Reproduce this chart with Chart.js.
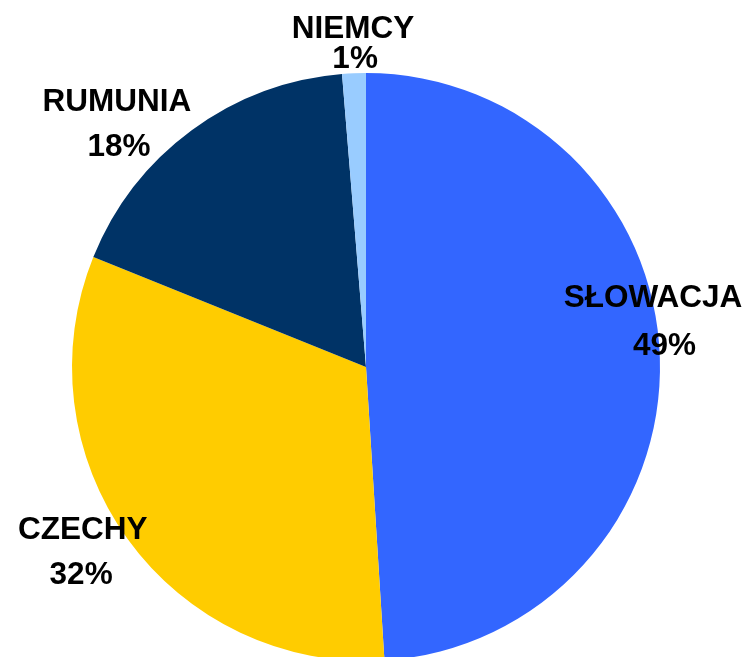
<!DOCTYPE html>
<html>
<head>
<meta charset="utf-8">
<script src="https://cdn.jsdelivr.net/npm/chart.js@4/dist/chart.umd.min.js"></script>
<style>
  html, body { margin: 0; padding: 0; background: #fff; overflow: hidden; }
  canvas { display: block; }
</style>
</head>
<body>
<canvas id="pieChart" width="749" height="700"></canvas>
<script>
const countries = ["SŁOWACJA", "CZECHY", "RUMUNIA", "NIEMCY"];
const shares = [49.0, 32.1, 17.6, 1.3];
const colors = ["#3366FF", "#FFCC00", "#003366", "#99CCFF"];

// label spots in units of the pie radius, from the pie centre: [name dx, name dy, pct dx, pct dy]
const labelSpots = [
  [0.976, -0.204, 1.015, -0.041],
  [-0.963, 0.585, -0.969, 0.738],
  [-0.847, -0.872, -0.840, -0.719],
  [-0.044, -1.119, -0.037, -1.017]
];

const labelPlugin = {
  id: "pieLabels",
  afterDatasetsDraw(chart) {
    const ctx = chart.ctx;
    const arcs = chart.getDatasetMeta(0).data;
    const total = shares.reduce((a, b) => a + b, 0);
    ctx.save();
    ctx.fillStyle = "#000";
    ctx.font = "bold 31.5px 'Liberation Sans', Arial, sans-serif";
    ctx.textAlign = "center";
    ctx.textBaseline = "alphabetic";
    arcs.forEach((arc, i) => {
      const r = arc.outerRadius;
      const s = labelSpots[i];
      const pct = Math.round(shares[i] / total * 100) + "%";
      ctx.fillText(countries[i], arc.x + s[0] * r, arc.y + s[1] * r);
      ctx.fillText(pct, arc.x + s[2] * r, arc.y + s[3] * r);
    });
    ctx.restore();
  }
};

new Chart(document.getElementById("pieChart"), {
  type: "pie",
  data: {
    labels: countries,
    datasets: [{
      data: shares,
      backgroundColor: colors,
      borderWidth: 0
    }]
  },
  options: {
    responsive: false,
    animation: false,
    layout: { padding: { left: 72, top: 73, right: 89, bottom: 39 } },
    plugins: {
      legend: { display: false },
      tooltip: { enabled: false }
    }
  },
  plugins: [labelPlugin]
});
</script>
</body>
</html>
